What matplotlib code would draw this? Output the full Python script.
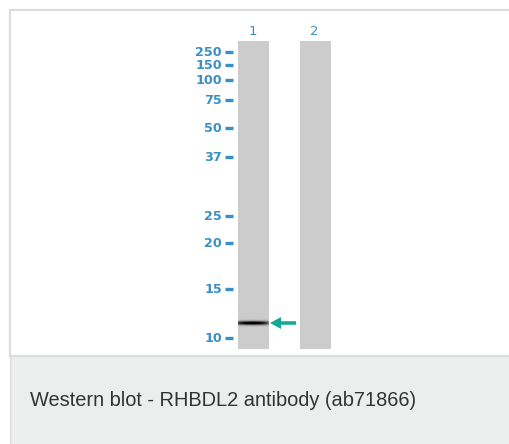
import numpy as np
import matplotlib
matplotlib.use("Agg")
import matplotlib.pyplot as plt
from matplotlib.patches import Rectangle, FancyArrow

# marker ladder (kDa) and how far each ran down the gel (px from image top)
marker_kda = [250, 150, 100, 75, 50, 37, 25, 20, 15, 10]
marker_pos = [52, 65, 80, 100, 128, 157, 216, 243, 289, 338]
lane_labels = ["1", "2"]
band_lane = 0          # lane with the detected band
band_pos = 323         # migration of the band
caption = "Western blot - RHBDL2 antibody (ab71866)"

W, H = 510, 444
fig = plt.figure(figsize=(W / 100, H / 100), dpi=100)
ax = fig.add_axes([0, 0, 1, 1])
ax.set_xlim(0, W)
ax.set_ylim(H, 0)
ax.axis("off")

blue = "#3a8fc6"
teal = "#14a896"

# frame + caption panel
ax.add_patch(Rectangle((10, 10), W, 346, facecolor="white", edgecolor="#dcdcdc", lw=1.6))
ax.add_patch(Rectangle((10, 356), W, H, facecolor="#eceeed", edgecolor="#dddddd", lw=1.0))
ax.text(30, 401, caption, fontsize=14.4, color="#333333", family="Liberation Sans", va="center")

# lanes
lane_x = [238, 300]
lane_w = 31
top, bot = 41, 349
for x, lab in zip(lane_x, lane_labels):
    ax.add_patch(Rectangle((x, top), lane_w, bot - top, facecolor="#cccccc", edgecolor="none"))
    ax.text(x + lane_w / 2 - 1, 31, lab, color=blue, fontsize=9.5, family="DejaVu Sans",
            ha="center", va="center")

# ladder
for kda, y in zip(marker_kda, marker_pos):
    ax.plot([225, 233], [y, y], color=blue, lw=2.4, solid_capstyle="butt")
    ax.text(222, y + 0.5, str(kda), color=blue, fontsize=9.2, family="DejaVu Sans",
            fontweight="bold", ha="right", va="center")

# band: dark smear across lane 1
bx = lane_x[band_lane]
nx, ny = 80, 13
xs = np.linspace(0, 1, nx)
prof = np.clip(np.sin(np.pi * (xs * 0.9 + 0.08)) ** 0.35, 0, 1)
ys = np.linspace(-1, 1, ny)
img = prof[None, :] * np.exp(-(ys[:, None] / 0.42) ** 2)
rgba = np.zeros((ny, nx, 4))
rgba[..., 3] = np.clip(img * 1.15, 0, 1)
ax.imshow(rgba, extent=(bx, bx + lane_w, band_pos + 5, band_pos - 5),
          interpolation="bilinear", zorder=3)

# arrow pointing at the band
ax.add_patch(FancyArrow(296, band_pos, -26, 0, width=3.5, head_width=12, head_length=11,
                        length_includes_head=True, color=teal, lw=0, zorder=4))

fig.savefig("out.png", dpi=100)
